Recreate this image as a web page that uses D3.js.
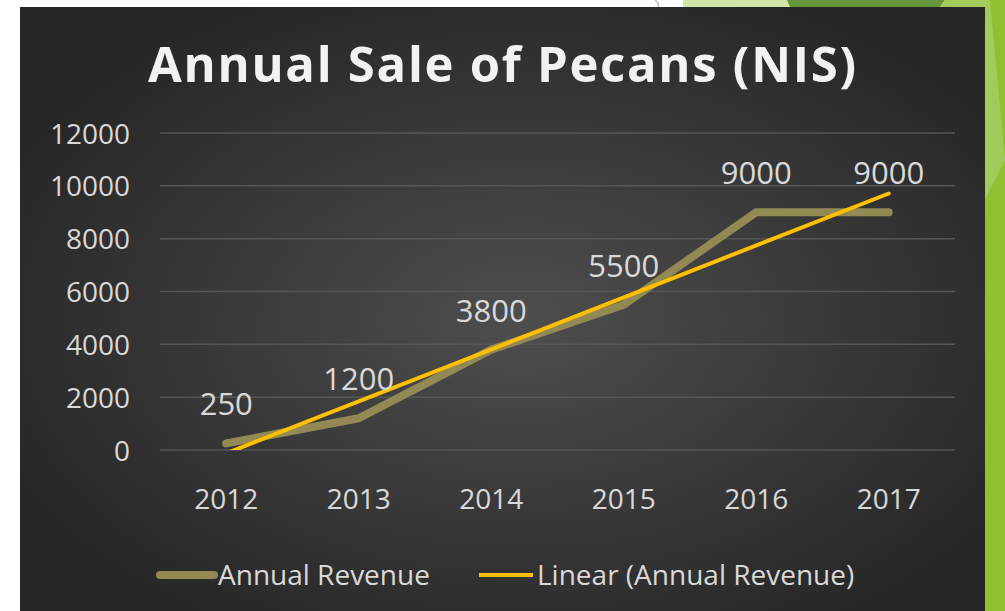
<!DOCTYPE html>
<html>
<head>
<meta charset="utf-8">
<script src="https://d3js.org/d3.v7.min.js"></script>
<style>
  body { margin: 0; background: #fff; }
  svg { display: block; }
</style>
</head>
<body>
<div id="chart"></div>
<script>
// values
var years = ["2012", "2013", "2014", "2015", "2016", "2017"];
var revenue = [250, 1200, 3800, 5500, 9000, 9000];
var trendEnds = [-126, 9710];   // linear trendline, first and last year
var yTicks = [0, 2000, 4000, 6000, 8000, 10000, 12000];
var legendNames = ["Annual Revenue", "Linear (Annual Revenue)"];

var W = 1005, H = 611;
var svg = d3.select("#chart").append("svg")
  .attr("width", W).attr("height", H);

// slide decoration behind the chart panel
svg.append("rect").attr("width", W).attr("height", H).attr("fill", "#fff");
svg.append("polygon").attr("points", "683,0 1005,0 1005,611 985,611 985,7 683,7").attr("fill", "#d3e4a8");
svg.append("polygon").attr("points", "787,0 945,0 940,7 790,7").attr("fill", "#64963c");
svg.append("polygon").attr("points", "945,0 1005,0 1005,611 985,611 985,7 940,7").attr("fill", "#a3cb5c");
svg.append("polygon").attr("points", "975,0 1005,0 1005,611 985,611 985,200 1005,160 990,0").attr("fill", "#90c031");
svg.append("path").attr("d", "M655,0 Q660,4 658,7").attr("fill", "none").attr("stroke", "#bbb").attr("stroke-width", 1.5);

// panel with radial shading
var defs = svg.append("defs");
var grad = defs.append("radialGradient").attr("id", "bg")
  .attr("cx", "52%").attr("cy", "52%").attr("r", "60%");
grad.append("stop").attr("offset", "0%").attr("stop-color", "#4e4e4e");
grad.append("stop").attr("offset", "100%").attr("stop-color", "#262626");
svg.append("rect").attr("x", 20).attr("y", 7).attr("width", 965).attr("height", H - 7)
  .attr("fill", "url(#bg)");

// title
svg.append("text")
  .attr("x", 502).attr("y", 82)
  .attr("text-anchor", "middle")
  .attr("font-family", "Open Sans")
  .attr("font-weight", "bold")
  .attr("font-size", 49)
  .attr("fill", "#f2f2f2")
  .attr("textLength", 708).attr("lengthAdjust", "spacing")
  .text("Annual Sale of Pecans (NIS)");

var x = d3.scaleBand().domain(years).range([160, 955]);
var y = d3.scaleLinear().domain([0, 12000]).range([450, 133]);
var cx = function(d) { return x(d) + x.bandwidth() / 2; };

// plot area clip (trendline goes below 0)
defs.append("clipPath").attr("id", "plot")
  .append("rect").attr("x", 160).attr("y", 120).attr("width", 795).attr("height", 330);

// gridlines
svg.append("g").selectAll("line")
  .data(yTicks).enter().append("line")
  .attr("x1", 160).attr("x2", 955)
  .attr("y1", function(d) { return y(d); })
  .attr("y2", function(d) { return y(d); })
  .attr("stroke", "#565656").attr("stroke-width", 1.5);

// y axis labels
var yAxis = svg.append("g").attr("transform", "translate(130,0)")
  .call(d3.axisLeft(y).tickValues(yTicks).tickSize(0).tickPadding(0).tickFormat(d3.format("d")));
yAxis.select(".domain").remove();
yAxis.selectAll("text")
  .attr("font-family", "Open Sans").attr("font-size", 28).attr("fill", "#d9d9d9")
  .attr("dy", "0.36em");

// x axis labels
var xAxis = svg.append("g").attr("transform", "translate(0,489)")
  .call(d3.axisBottom(x).tickSize(0).tickPadding(0));
xAxis.select(".domain").remove();
xAxis.selectAll("text")
  .attr("font-family", "Open Sans").attr("font-size", 28).attr("fill", "#d9d9d9")
  .attr("dy", "0.72em");

// revenue line
var line = d3.line()
  .x(function(d, i) { return cx(years[i]); })
  .y(function(d) { return y(d); });
svg.append("path").datum(revenue)
  .attr("d", line)
  .attr("fill", "none").attr("stroke", "#928954").attr("stroke-width", 8)
  .attr("stroke-linecap", "round").attr("stroke-linejoin", "round");

// trendline
svg.append("line")
  .attr("clip-path", "url(#plot)")
  .attr("x1", cx(years[0])).attr("y1", y(trendEnds[0]))
  .attr("x2", cx(years[years.length - 1])).attr("y2", y(trendEnds[1]))
  .attr("stroke", "#ffc000").attr("stroke-width", 4).attr("stroke-linecap", "round");

// data labels
svg.append("g").selectAll("text")
  .data(revenue).enter().append("text")
  .attr("x", function(d, i) { return cx(years[i]); })
  .attr("y", function(d) { return y(d) - 28; })
  .attr("text-anchor", "middle")
  .attr("font-family", "Open Sans").attr("font-size", 31).attr("fill", "#d9d9d9")
  .text(function(d) { return d; });

// legend
var legendX = [160, 479];
var legendCol = ["#928954", "#ffc000"];
var legendW = [8, 4];
var lg = svg.append("g").selectAll("g")
  .data(legendNames).enter().append("g")
  .attr("transform", function(d, i) { return "translate(" + legendX[i] + ",575)"; });
lg.append("line")
  .attr("x1", 0).attr("x2", 54)
  .attr("stroke", function(d, i) { return legendCol[i]; })
  .attr("stroke-width", function(d, i) { return legendW[i]; })
  .attr("stroke-linecap", function(d, i) { return i == 0 ? "round" : "butt"; });
lg.append("text")
  .attr("x", 58).attr("y", 10)
  .attr("font-family", "Open Sans").attr("font-size", 28).attr("fill", "#d9d9d9")
  .text(function(d) { return d; });
</script>
</body>
</html>
